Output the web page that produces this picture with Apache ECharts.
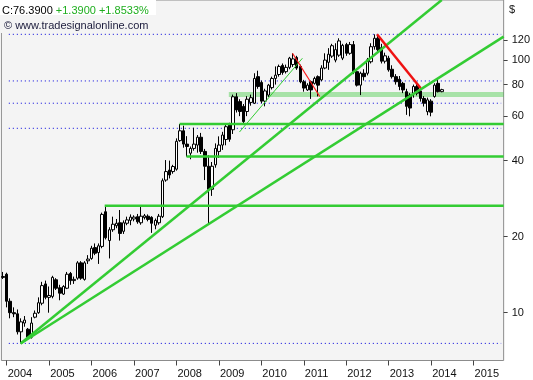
<!DOCTYPE html>
<html><head><meta charset="utf-8">
<script src="https://cdn.jsdelivr.net/npm/echarts@6/dist/echarts.min.js"></script>
<style>html,body{margin:0;padding:0;background:#fff}#c{width:533px;height:380px}</style>
</head><body><div id="c"></div>
<script>
// ---- data ----
const firstYear = 2003, firstMonth = 12, monthSlots = 142;
const priceTicks = [10, 20, 40, 60, 80, 100, 120];
// monthly candles, Dec 2003 .. Apr 2014
const opens = [13.9,
 14.2,11.1,10.0,9.9,8.4,9.1,8.6,8.0,9.6,10.0,10.9,13.0,
 11.5,11.6,13.5,12.55,11.85,12.5,14.3,13.4,13.7,15.75,13.55,16.05,
 16.4,18.1,17.3,18.3,25.1,19.3,21.3,22.1,22.7,21.0,22.6,23.2,
 23.5,24.0,22.7,23.8,24.1,23.85,22.2,22.7,24.0,33.5,36.7,36.2,
 37.0,48.0,52.5,46.5,42.8,44.7,46.1,49.5,43.5,38.0,30.8,38.5,
 43.5,46.1,48.5,55.3,53.0,71.6,68.5,65.6,62.6,68.0,67.5,86.0,
 81.6,68.8,72.7,77.8,84.6,87.7,95.3,90.0,93.6,96.0,102.5,94.4,
 82.1,76.2,82.1,80.9,86.0,83.5,93.0,98.0,103.7,100.0,104.6,101.8,
 115.2,106.4,115.2,90.0,79.6,88.7,88.7,98.5,113.0,122.0,112.0,99.0,
 101.8,92.0,86.0,84.0,80.9,75.0,72.7,73.8,78.6,75.5,70.5,62.5,
 68.8,71.8,80.9,75.0];
const closes = [13.8,
 11.1,10.0,9.9,8.4,9.2,9.35,8.0,9.1,9.95,10.95,12.8,11.5,
 11.7,13.8,12.5,11.95,12.7,14.2,13.4,13.55,15.75,13.7,15.75,16.3,
 18.0,17.2,18.4,24.5,19.8,21.3,22.4,22.6,20.6,22.7,23.3,23.9,
 23.9,22.9,24.1,24.2,23.4,22.6,23.2,24.1,33.3,36.2,35.1,37.9,
 47.7,52.5,46.5,45.5,44.7,46.5,49.5,43.5,38.0,30.8,38.0,44.7,
 46.1,50.5,54.5,48.6,71.6,63.5,62.6,57.1,70.0,71.0,84.6,78.6,
 68.8,75.5,79.6,84.6,87.2,94.4,89.3,93.6,101.8,101.1,93.0,82.1,
 77.5,79.6,76.2,84.6,79.6,93.0,100.0,105.5,114.0,110.0,119.1,114.4,
 106.4,115.2,90.0,79.6,88.7,86.0,100.2,113.0,122.0,110.0,99.0,104.0,
 91.5,86.0,82.1,78.6,76.2,65.6,64.6,78.6,74.0,70.5,67.5,69.6,
 62.2,79.6,75.0,76.39];
const lows = [13.6,
 10.5,9.5,9.6,8.2,7.56,8.8,7.8,7.9,9.5,9.9,10.7,11.3,
 10.0,11.4,12.3,11.2,11.75,12.4,12.9,13.0,13.5,13.5,13.4,15.6,
 16.2,16.9,15.6,18.0,19.5,16.4,20.9,21.6,19.3,20.5,22.2,22.2,
 23.0,22.5,22.3,23.4,23.0,20.7,21.4,22.3,23.7,33.0,34.0,35.5,
 36.5,47.5,45.0,41.5,40.5,43.8,43.0,42.5,33.5,22.6,29.0,37.5,
 41.0,44.1,46.0,47.5,51.0,62.0,60.0,56.0,60.0,66.0,67.0,77.0,
 67.5,65.6,71.5,76.5,80.0,86.0,87.5,88.5,92.0,94.0,91.5,81.0,
 75.0,75.5,70.2,80.0,71.8,82.5,92.0,91.5,102.0,98.0,103.0,100.0,
 104.0,105.0,88.0,78.6,72.7,83.0,87.0,97.0,110.0,107.0,97.0,97.0,
 90.0,84.5,80.0,76.0,74.0,60.7,59.9,71.0,72.5,68.5,65.5,60.5,
 59.9,71.0,74.5,74.6];
const highs = [14.5,
 14.4,11.4,10.5,10.3,9.5,9.7,8.7,9.6,10.2,11.5,13.25,13.4,
 12.7,14.0,13.7,12.9,12.85,14.5,14.5,13.9,16.0,16.0,16.0,16.9,
 18.4,18.8,18.8,24.9,26.5,21.8,24.0,23.5,25.5,23.2,24.0,24.5,
 24.3,24.6,26.3,24.6,24.5,24.1,23.6,24.6,34.0,40.2,40.0,38.5,
 49.0,55.85,55.0,50.0,45.5,54.0,50.5,51.5,44.5,42.0,39.5,46.8,
 49.9,52.0,55.5,56.5,73.0,74.0,70.0,67.0,72.0,73.0,88.7,90.8,
 83.0,77.0,80.5,86.0,94.4,96.0,97.0,96.0,103.0,106.4,104.0,96.0,
 83.5,81.0,83.0,86.0,87.0,95.4,106.4,111.5,116.0,116.6,122.0,116.0,
 117.0,118.0,119.0,91.0,90.0,92.0,102.0,116.6,126.5,125.0,116.0,107.0,
 104.0,95.4,88.0,86.5,82.0,77.0,74.0,80.0,80.3,77.8,72.0,71.0,
 70.0,81.0,84.1,77.0];
// drawn lines, [monthIndex (0 = Jan 2004), price]
const steepTrend = [[3.94, 7.55], [123.0, 173.0]];
const flatTrend = [[3.94, 7.55], [140.5, 123.9]];
const shortTrend = [[65.8, 51.9], [83.6, 101.7]];
const resistance2008 = [[48.87, 55.85], [140.5, 55.85]];
const support2008 = [[50.84, 41.5], [140.5, 41.5]];
const resistance2006 = [[27.7, 26.5], [140.5, 26.5]];
const zone = [[62.8, 73.1], [140.5, 73.1]];
const downTrend2010 = [[80.8, 106.4], [88.5, 71.8]];
const downTrend2012 = [[104.7, 126.5], [117.0, 77.5]];
const dottedLevels = [126.5, 82.7, 67.5, 53.7, 7.56];
const dottedSpan = [0.6, 139.8];
const lastClose = '76.3900', change = '+1.3900', changePct = '+1.8533%';

// ---- chart ----
const months = [];
for (let i = 0; i < monthSlots; i++) {
  const k = firstMonth - 1 + i;
  const y = firstYear + Math.floor(k / 12), m = (k % 12) + 1;
  months.push(y + '-' + (m < 10 ? '0' + m : m));
}
const isJan = (idx, v) => /-01$/.test(v);
const candles = opens.map((o, i) => [o, closes[i], lows[i], highs[i]]);
const FONT = 'Liberation Sans, Arial, sans-serif';
const GREEN = '#33cc33';

function lineSeries(data, color, width, z, type) {
  return { type: 'line', xAxisIndex: 1, yAxisIndex: 0, data: data, symbol: 'none',
    silent: true, animation: false, z: z, clip: true,
    lineStyle: { color: color, width: width, type: type || 'solid' } };
}

const series = [];
series.push(lineSeries(zone, 'rgba(60,200,60,0.42)', 5, 1));
dottedLevels.forEach(v => series.push(lineSeries([[dottedSpan[0], v], [dottedSpan[1], v]], '#0000dd', 1, 1, [1, 3])));
series.push({
  type: 'candlestick', xAxisIndex: 0, yAxisIndex: 0, data: candles, barWidth: 3,
  animation: false, z: 2,
  itemStyle: { color: '#ffffff', color0: '#000000', borderColor: '#000000', borderColor0: '#000000', borderWidth: 1 }
});
[steepTrend, flatTrend, resistance2008, support2008, resistance2006].forEach(d => series.push(lineSeries(d, GREEN, 2.5, 3)));
series.push(lineSeries(shortTrend, GREEN, 1, 3));
series.push(lineSeries(downTrend2010, '#ff1a1a', 1.2, 3));
series.push(lineSeries(downTrend2012, '#ee1111', 2.5, 3));

const chart = echarts.init(document.getElementById('c'), null, { renderer: 'canvas' });
chart.setOption({
  animation: false,
  backgroundColor: '#ffffff',
  grid: { left: 1.4, right: 28, top: 0, bottom: 19.5, show: true, backgroundColor: '#f4f4f4', borderColor: '#8c8c8c', borderWidth: 1 },
  xAxis: [
    { type: 'category', data: months, boundaryGap: true,
      axisLine: { show: false, onZero: false },
      axisTick: { show: true, alignWithLabel: true, interval: isJan, length: 5, lineStyle: { color: '#444' } },
      axisLabel: { interval: isJan, formatter: v => v.slice(0, 4), align: 'left', padding: [0, 0, 0, 1], margin: 8,
        fontSize: 11, fontFamily: FONT, color: '#111' },
      splitLine: { show: false } },
    { type: 'value', min: -1.5, max: 140.5, show: false, axisLine: { onZero: false } }
  ],
  yAxis: [{
    type: 'log', logBase: 10, min: 6.468, max: 172.96, position: 'right',
    axisLine: { show: false, onZero: false },
    axisTick: { show: true, inside: false, length: 4, customValues: priceTicks, lineStyle: { color: '#444' } },
    axisLabel: { customValues: priceTicks, margin: 8, fontSize: 11, fontFamily: FONT, color: '#111' },
    splitLine: { show: false }
  }],
  graphic: [
    { type: 'rect', left: 0, top: 0, shape: { width: 156, height: 15 }, style: { fill: '#ffffff' }, z: 100 },
    { type: 'rect', left: 0, top: 15, shape: { width: 150, height: 18 }, style: { fill: '#f4f4f4' }, z: 100 },
    { type: 'text', x: 2, y: 10.5, z: 101, style: { text: '{k|C:' + lastClose + '} {g|' + change + ' ' + changePct + '}',
      verticalAlign: 'middle', font: '11px ' + FONT,
      rich: { k: { fill: '#000000', font: '11px ' + FONT }, g: { fill: '#1fae1f', font: '11px ' + FONT } } } },
    { type: 'text', x: 4, y: 25.5, z: 101, style: { text: '© www.tradesignalonline.com', verticalAlign: 'middle', fill: '#1c1c3c', font: '11px ' + FONT } },
    { type: 'text', x: 509, y: 10, z: 101, style: { text: '$', verticalAlign: 'middle', fill: '#111', font: '11px ' + FONT } }
  ],
  series: series
});
</script></body></html>
